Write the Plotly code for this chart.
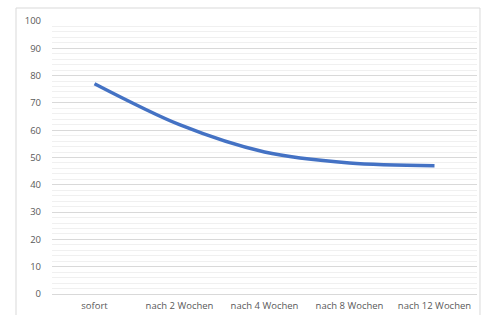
import plotly.graph_objects as go

categories = ["sofort", "nach 2 Wochen", "nach 4 Wochen", "nach 8 Wochen", "nach 12 Wochen"]
values = [77, 62, 52, 48, 47]
y_ticks = [0, 10, 20, 30, 40, 50, 60, 70, 80, 90, 100]

fig = go.Figure()
fig.add_trace(go.Scatter(
    x=categories, y=values, mode="lines",
    line=dict(color="#4472C4", width=3.5, shape="spline", smoothing=0.9),
    hoverinfo="x+y", showlegend=False,
))

font = dict(family="Open Sans, Noto Sans, sans-serif", size=9.5, color="#595959")

fig.update_layout(
    width=489, height=315,
    margin=dict(l=52, r=12, t=21, b=21, autoexpand=False),
    paper_bgcolor="white", plot_bgcolor="white",
    font=font,
    xaxis=dict(
        type="category", range=[-0.5, 4.5], showgrid=False, showline=False,
        zeroline=False, ticks="", tickfont=font, fixedrange=True, automargin=False,
        ticklabelstandoff=4,
    ),
    yaxis=dict(
        range=[0, 100], tickvals=y_ticks, ticktext=[str(v) for v in y_ticks],
        showgrid=True, gridcolor="#d9d9d9", gridwidth=1,
        zeroline=True, zerolinecolor="#d9d9d9", zerolinewidth=1,
        showline=False, ticks="", tickfont=font, ticklabelstandoff=10,
        minor=dict(dtick=2, showgrid=True, gridcolor="#f0f0f0", gridwidth=1),
        fixedrange=True, automargin=False,
    ),
    shapes=[dict(
        type="rect", xref="paper", yref="paper",
        x0=-0.0847, x1=1.007, y0=-0.12, y1=1.0476,
        line=dict(color="#d9d9d9", width=1), fillcolor="rgba(0,0,0,0)",
        layer="below",
    )],
)

fig.write_html(
    "out.html",
    config={"displayModeBar": False},
    post_script="document.body.style.margin='0';document.body.style.overflow='hidden';",
)
